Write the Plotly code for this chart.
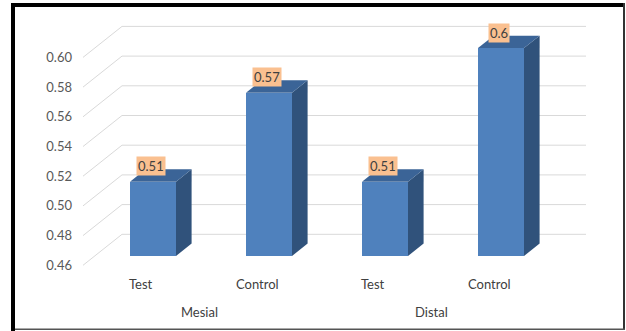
import plotly.graph_objects as go

# ---------------- data ----------------
groups = ["Mesial", "Mesial", "Distal", "Distal"]
categories = ["Test", "Control", "Test", "Control"]
values = [0.51, 0.57, 0.51, 0.60]
value_labels = ["0.51", "0.57", "0.51", "0.6"]
tick_vals = [0.46, 0.48, 0.50, 0.52, 0.54, 0.56, 0.58, 0.60]
tick_text = ["0.46", "0.48", "0.50", "0.52", "0.54", "0.56", "0.58", "0.60"]
y_base = 0.46

# ---------------- geometry (pixels) ----------------
W, H = 626, 331
X0, DX = 153.0, 116.0          # px of first bar centre, px per category
Y0, K = 256.0, 29.7 / 0.02     # px of base on bar-front plane, px per value unit
DEPTH = (39.0, -31.0)          # full depth vector (front axis -> back wall), px
D_FRONT, D_BACK = 0.3, 0.7     # bar depth placement (fraction)
BAR_W_PX = 46.0
WALL_L, WALL_R, AXIS_L = 122.0, 586.0, 83.0

FRONT = "#4F81BD"
SIDE = "#30527B"
TOP = "#3B6497"
GRID = "#D9D9D9"
FONT = "Lato"

def xd(px):   # px offset -> x data units
    return px / DX

def yd(py):   # px offset (down positive) -> y data units
    return -py / K

def x_at(px):  # absolute px -> x data
    return (px - X0) / DX

idx = list(range(len(values)))
bw = BAR_W_PX / DX
bd = D_BACK - D_FRONT
sdx, sdy = xd(DEPTH[0] * bd), yd(DEPTH[1] * bd)

fig = go.Figure()

# front faces
fig.add_trace(go.Bar(
    x=idx, y=[v - y_base for v in values], base=y_base, width=bw,
    marker=dict(color=FRONT, line=dict(width=0)), hoverinfo="skip",
    showlegend=False))

# side and top faces (computed from values)
for i, v in zip(idx, values):
    xr = i + bw / 2
    xl = i - bw / 2
    fig.add_trace(go.Scatter(
        x=[xr, xr, xr + sdx, xr + sdx, xr],
        y=[y_base, v, v + sdy, y_base + sdy, y_base],
        fill="toself", fillcolor=SIDE, mode="lines",
        line=dict(width=0, color=SIDE), hoverinfo="skip", showlegend=False))
    fig.add_trace(go.Scatter(
        x=[xl, xr, xr + sdx, xl + sdx, xl],
        y=[v, v, v + sdy, v + sdy, v],
        fill="toself", fillcolor=TOP, mode="lines",
        line=dict(width=0, color=TOP), hoverinfo="skip", showlegend=False))

# back-wall gridlines and diagonals
back_dx = DEPTH[0] * (1 - D_FRONT)
back_dy = DEPTH[1] * (1 - D_FRONT)
front_dy = -DEPTH[1] * D_FRONT
shapes = []
for t in tick_vals:
    yb = t + yd(back_dy)
    yf = t + yd(front_dy)
    shapes.append(dict(type="line", xref="x", yref="y", layer="below",
                       x0=x_at(WALL_L), x1=x_at(WALL_R), y0=yb, y1=yb,
                       line=dict(color=GRID, width=1)))
    shapes.append(dict(type="line", xref="x", yref="y", layer="below",
                       x0=x_at(AXIS_L), x1=x_at(WALL_L), y0=yf, y1=yb,
                       line=dict(color=GRID, width=1)))

# outer frame
shapes += [
    dict(type="rect", xref="paper", yref="paper", x0=11 / W, x1=15 / W,
         y0=0, y1=1 - 3 / H, fillcolor="black", line=dict(width=0)),
    dict(type="rect", xref="paper", yref="paper", x0=11 / W, x1=625 / W,
         y0=1 - 7 / H, y1=1 - 3 / H, fillcolor="black", line=dict(width=0)),
    dict(type="rect", xref="paper", yref="paper", x0=623 / W, x1=625 / W,
         y0=1 - 330 / H, y1=1 - 3 / H, fillcolor="#333333", line=dict(width=0)),
    dict(type="rect", xref="paper", yref="paper", x0=15 / W, x1=625 / W,
         y0=1 - 330 / H, y1=1 - 328.5 / H, fillcolor="#555555", line=dict(width=0)),
]

annotations = []
# data labels
for i, v, lab in zip(idx, values, value_labels):
    annotations.append(dict(
        x=i, y=v, xref="x", yref="y", text=lab, showarrow=False,
        xshift=-2.5, yshift=15.5, bgcolor="#FAC090", borderpad=1,
        font=dict(family=FONT, size=13, color="#404040")))
# category labels (front plane)
cat_shift = -DEPTH[0] * D_FRONT
for i, c in zip(idx, categories):
    annotations.append(dict(
        x=i, y=1 - 284 / H, xref="x", yref="paper", text=c, showarrow=False,
        xshift=cat_shift, yanchor="middle",
        font=dict(family=FONT, size=13, color="#404040")))
# group labels
seen = []
for g in groups:
    if g not in seen:
        seen.append(g)
for g in seen:
    members = [i for i, gg in zip(idx, groups) if gg == g]
    annotations.append(dict(
        x=sum(members) / len(members), y=1 - 312 / H, xref="x", yref="paper",
        text=g, showarrow=False, xshift=cat_shift, yanchor="middle",
        font=dict(family=FONT, size=13, color="#404040")))

front_base_px = Y0 + front_dy
fig.update_layout(
    width=W, height=H, margin=dict(l=0, r=0, t=0, b=0),
    paper_bgcolor="white", plot_bgcolor="rgba(0,0,0,0)",
    xaxis=dict(range=[x_at(0), x_at(W)], domain=[0, 1], visible=False,
               fixedrange=True),
    yaxis=dict(range=[y_base - (H - Y0) / K, y_base + Y0 / K], domain=[0, 1],
               visible=False, fixedrange=True),
    yaxis2=dict(range=[y_base - (H - front_base_px) / K,
                       y_base + front_base_px / K],
                overlaying="y", anchor="free", position=72 / W, side="left",
                tickvals=tick_vals, ticktext=tick_text, ticks="",
                showgrid=False, zeroline=False, showline=False,
                tickfont=dict(family=FONT, size=13, color="#595959"),
                fixedrange=True),
    shapes=shapes, annotations=annotations, showlegend=False,
    bargap=0,
)
# dummy invisible trace to activate yaxis2
fig.add_trace(go.Scatter(x=[0], y=[tick_vals[0]], yaxis="y2", mode="markers",
                         marker=dict(opacity=0), hoverinfo="skip",
                         showlegend=False))

fig.write_html("out.html")
